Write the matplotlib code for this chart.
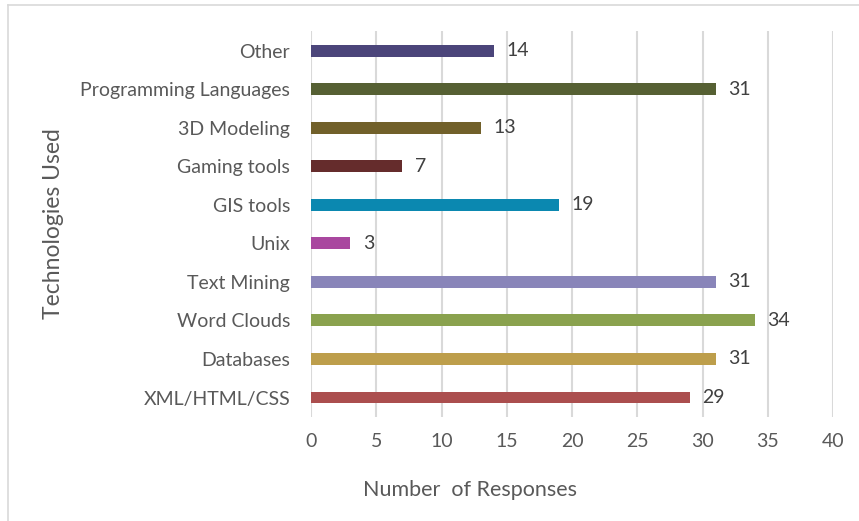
import numpy as np
import matplotlib
matplotlib.use('Agg')
from matplotlib import pyplot as plt
from matplotlib.lines import Line2D

categories = ['XML/HTML/CSS', 'Databases', 'Word Clouds', 'Text Mining', 'Unix',
              'GIS tools', 'Gaming tools', '3D Modeling', 'Programming Languages', 'Other']
responses = [29, 31, 34, 31, 3, 19, 7, 13, 31, 14]
colors = ['#ab4e4e', '#bd9e4b', '#8aa24e', '#8985b9', '#a9479f',
          '#0b88b0', '#652c2c', '#71602a', '#566033', '#4b457a']
xticks = [0, 5, 10, 15, 20, 25, 30, 35, 40]

txt = '#595959'
plt.rcParams['font.family'] = ['Lato', 'DejaVu Sans']

fig = plt.figure(figsize=(8.59, 5.21), dpi=100)
ax = fig.add_axes([0.362, 0.2, 0.608, 0.74])

y = np.arange(len(categories))
ax.barh(y, responses, height=0.31, color=colors, zorder=3)
for yi, v in zip(y, responses):
    ax.annotate(str(v), (v, yi), xytext=(9, 0), textcoords='offset points',
                va='center', ha='left', fontsize=14, color='#404040')

ax.set_xlim(0, 40)
ax.set_ylim(-0.5, len(categories) - 0.5)
ax.set_xticks(xticks)
ax.set_yticks(y)
ax.set_yticklabels(categories)
ax.tick_params(length=0, labelsize=14, colors=txt)
ax.tick_params(axis='x', pad=12)
ax.tick_params(axis='y', pad=15)
ax.grid(axis='x', color='#d9d9d9', linewidth=1.5, zorder=0)
for s in ax.spines.values():
    s.set_visible(False)

ax.set_xlabel('Number  of Responses', fontsize=15.5, color=txt)
ax.xaxis.set_label_coords((470 - 311) / 522, -(480 - 417) / 386)
ax.set_ylabel('Technologies Used', fontsize=16.5, color=txt)
ax.yaxis.set_label_coords((64 - 311) / 522, 0.5)

# light frame around the chart
fig.add_artist(Line2D([8/859, 1], [1 - 5/521, 1 - 5/521], color='#d9d9d9', lw=1.2))
fig.add_artist(Line2D([8/859, 8/859], [0, 1 - 5/521], color='#d9d9d9', lw=1.2))

fig.savefig('out.png', dpi=100)
